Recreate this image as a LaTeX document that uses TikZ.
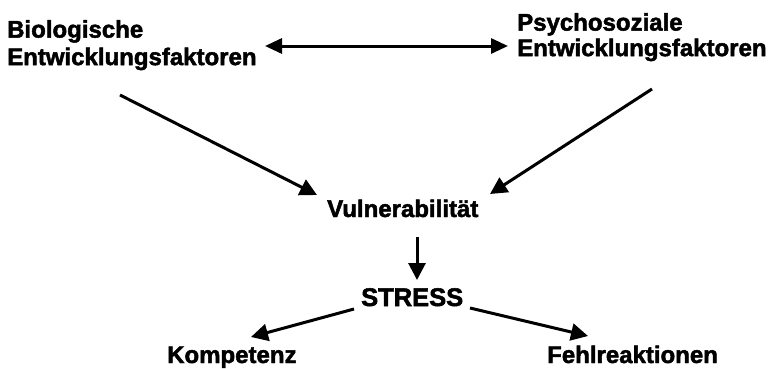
\documentclass[tikz,border=0pt]{standalone}
\usepackage{fontspec}
\setmainfont{Liberation Sans}[BoldFeatures={FakeBold=2}]
\usetikzlibrary{arrows.meta}
\begin{document}
\begin{tikzpicture}[x=1pt,y=1pt,
  lbl/.style={inner sep=0pt, font=\fontsize{24}{27.5}\selectfont\bfseries},
  arr/.style={line width=3pt, -{Triangle[length=17pt,width=17pt]}},
  darr/.style={line width=3pt, {Triangle[length=17pt,width=15pt]}-{Triangle[length=17pt,width=15pt]}}]
  \useasboundingbox (0,0) rectangle (770,368);

  % factor labels
  \node[lbl, anchor=north west, align=left] (bio) at (7,348)
    {Biologische\\Entwicklungsfaktoren};
  \node[lbl, anchor=north west, align=left, font=\fontsize{24}{25.5}\selectfont\bfseries] (psy) at (517,355)
    {Psychosoziale\\Entwicklungsfaktoren};

  % central chain
  \node[lbl, anchor=base west] (vul) at (327,151) {Vulnerabilität};
  \node[lbl, anchor=base west, font=\fontsize{25.5}{30}\selectfont\bfseries] (stress) at (361,62) {STRESS};
  \node[lbl, anchor=base west] (komp) at (167,5) {Kompetenz};
  \node[lbl, anchor=base west] (fehl) at (547,5) {Fehlreaktionen};

  % arrow end points
  \coordinate (bioR) at (265,322);
  \coordinate (psyL) at (508,322);
  \coordinate (bioOut) at (120,273);
  \coordinate (vulInL) at (317,173);
  \coordinate (psyOut) at (652,279);
  \coordinate (vulInR) at (490,174);
  \coordinate (vulOut) at (417,131);
  \coordinate (stressIn) at (417,88);
  \coordinate (stressOutL) at (354,59);
  \coordinate (kompIn) at (251,31);
  \coordinate (stressOutR) at (470,60);
  \coordinate (fehlIn) at (588,32);

  \draw[darr] (bioR) -- (psyL);
  \draw[arr] (bioOut) -- (vulInL);
  \draw[arr] (psyOut) -- (vulInR);
  \draw[arr] (vulOut) -- (stressIn);
  \draw[arr] (stressOutL) -- (kompIn);
  \draw[arr] (stressOutR) -- (fehlIn);
\end{tikzpicture}
\end{document}
